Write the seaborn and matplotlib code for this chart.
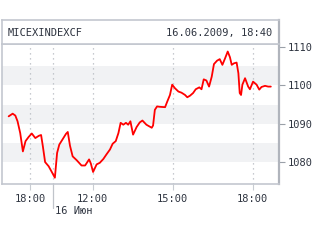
import matplotlib
matplotlib.use("Agg")
import matplotlib.pyplot as plt
import seaborn as sns
import pandas as pd

# ---- data ----
prev_times = ["17:11", "17:20", "17:26", "17:31", "17:37", "17:43", "17:49", "17:56",
              "18:03", "18:11", "18:19", "18:24", "18:28", "18:33", "18:41", "18:49"]
prev_values = [1091.9, 1092.6, 1092.1, 1090.6, 1087.5, 1082.7, 1085.4, 1086.5,
               1087.4, 1086.2, 1086.8, 1087.0, 1084.0, 1079.9, 1078.8, 1077.1]

today_times = ["10:35", "10:40", "10:45", "10:52", "11:00", "11:04", "11:09", "11:15",
               "11:24", "11:35", "11:43", "11:52", "11:56", "12:01", "12:09", "12:16",
               "12:24", "12:31", "12:39", "12:45", "12:52", "12:58", "13:03", "13:09",
               "13:15", "13:20", "13:25", "13:31", "13:39", "13:46", "13:52", "14:01",
               "14:13", "14:16", "14:20", "14:25", "14:31", "14:43", "14:48", "14:54",
               "14:59", "15:05", "15:13", "15:20", "15:28", "15:33", "15:39", "15:46",
               "15:52", "16:00", "16:05", "16:10", "16:16", "16:22", "16:28", "16:33",
               "16:40", "16:46", "16:52", "16:58", "17:04", "17:09", "17:13", "17:18",
               "17:24", "17:28", "17:31", "17:34", "17:37", "17:43", "17:50", "17:54",
               "18:01", "18:09", "18:15", "18:20", "18:28", "18:35", "18:41"]
today_values = [1075.8, 1082.3, 1084.5, 1085.8, 1087.3, 1087.8, 1084.2, 1081.4,
                1080.4, 1079.0, 1079.0, 1080.6, 1079.5, 1077.3, 1079.3, 1079.7,
                1080.7, 1081.9, 1083.2, 1084.7, 1085.4, 1087.5, 1090.2, 1089.7,
                1090.2, 1089.7, 1090.6, 1087.1, 1089.1, 1090.3, 1090.8, 1089.7,
                1088.9, 1089.5, 1093.6, 1094.5, 1094.4, 1094.3, 1095.8, 1097.5,
                1100.2, 1099.3, 1098.4, 1098.1, 1097.5, 1096.9, 1097.3, 1098.0,
                1099.0, 1099.5, 1099.0, 1101.6, 1101.3, 1099.7, 1102.3, 1105.6,
                1106.5, 1106.9, 1105.4, 1107.1, 1108.9, 1107.4, 1105.4, 1105.8,
                1106.0, 1103.2, 1098.0, 1097.5, 1100.2, 1101.9, 1099.7, 1099.0,
                1101.0, 1100.2, 1098.9, 1099.6, 1099.9, 1099.7, 1099.7]

x_tick_labels = ["18:00", "12:00", "15:00", "18:00"]
y_ticks = [1080, 1090, 1100, 1110]
title_left = "MICEXINDEXCF"
title_right = "16.06.2009, 18:40"
day_label = "16 Июн"

# ---- axis mapping (trading-time axis, overnight gap removed) ----
DAY_START = 10.5   # 10:30 today
PREV_SHIFT = 8 + 20 / 60.0  # previous day 18:50 maps onto 10:30


def hours(t):
    h, m = t.split(":")
    return int(h) + int(m) / 60.0


xs = [hours(t) - PREV_SHIFT for t in prev_times] + [hours(t) for t in today_times]
df = pd.DataFrame({"x": xs, "value": prev_values + today_values})

tick_pos = [hours("18:00") - PREV_SHIFT, hours("12:00"), hours("15:00"), hours("18:00")]

# ---- figure ----
sns.set_style("white")
plt.rcParams["font.family"] = ["DejaVu Sans Mono", "DejaVu Sans"]
fig = plt.figure(figsize=(3.2, 2.4), dpi=100)

frame_c = "#c3c7cf"
text_c = "#2e3440"

L, R = 2 / 320, 279 / 320
ax = fig.add_axes([L, 1 - 184 / 240, R - L, 140 / 240])
hx = fig.add_axes([L, 1 - 44 / 240, R - L, 24 / 240])

# bands
for lo in (1080, 1090, 1100):
    ax.axhspan(lo, lo + 5, color="#f1f2f4", lw=0, zorder=0)

# dotted vertical grid
for p in tick_pos + [DAY_START]:
    ax.axvline(p, color="#b5b9c0", lw=0.9, ls=(0, (1, 3)), zorder=1)

sns.lineplot(data=df, x="x", y="value", ax=ax, color="#ff0000", lw=1.3,
             sort=False, zorder=3)

ax.set_xlim(8.6, 18.99)
ax.set_ylim(1074.15, 1110.87)

ax.yaxis.tick_right()
ax.set_yticks(y_ticks)
ax.set_yticklabels([str(v) for v in y_ticks], fontsize=7.5, color=text_c)
ax.set_xticks(tick_pos)
ax.set_xticklabels(x_tick_labels, fontsize=7.5, color=text_c)
ax.tick_params(axis="y", length=4, width=0.8, color="#9aa0a8", pad=2, right=True)
ax.tick_params(axis="x", length=4, width=0.8, color="#c8ccd2", pad=3, bottom=True)
ax.set_xlabel("")
ax.set_ylabel("")
for s in ax.spines.values():
    s.set_color(frame_c)
    s.set_linewidth(1.2)
ax.spines["right"].set_color("#b0b4bc")
ax.spines["right"].set_linewidth(1.6)

# day boundary tick extending down, and day label
ax.plot([DAY_START, DAY_START], [0, -0.17], transform=ax.get_xaxis_transform(),
        color="#c0c4ca", lw=0.9, clip_on=False)
ax.text(DAY_START + 0.07, -0.195, day_label, transform=ax.get_xaxis_transform(),
        fontsize=7.5, color=text_c, ha="left", va="center")

# header box
hx.set_xticks([])
hx.set_yticks([])
for s in hx.spines.values():
    s.set_color(frame_c)
    s.set_linewidth(1.2)
hx.spines["right"].set_color("#b0b4bc")
hx.spines["right"].set_linewidth(1.6)
hx.text(0.022, 0.45, title_left, transform=hx.transAxes, fontsize=7.5,
        color=text_c, ha="left", va="center")
hx.text(0.975, 0.45, title_right, transform=hx.transAxes, fontsize=7.5,
        color=text_c, ha="right", va="center")

fig.savefig("out.png", dpi=100)
